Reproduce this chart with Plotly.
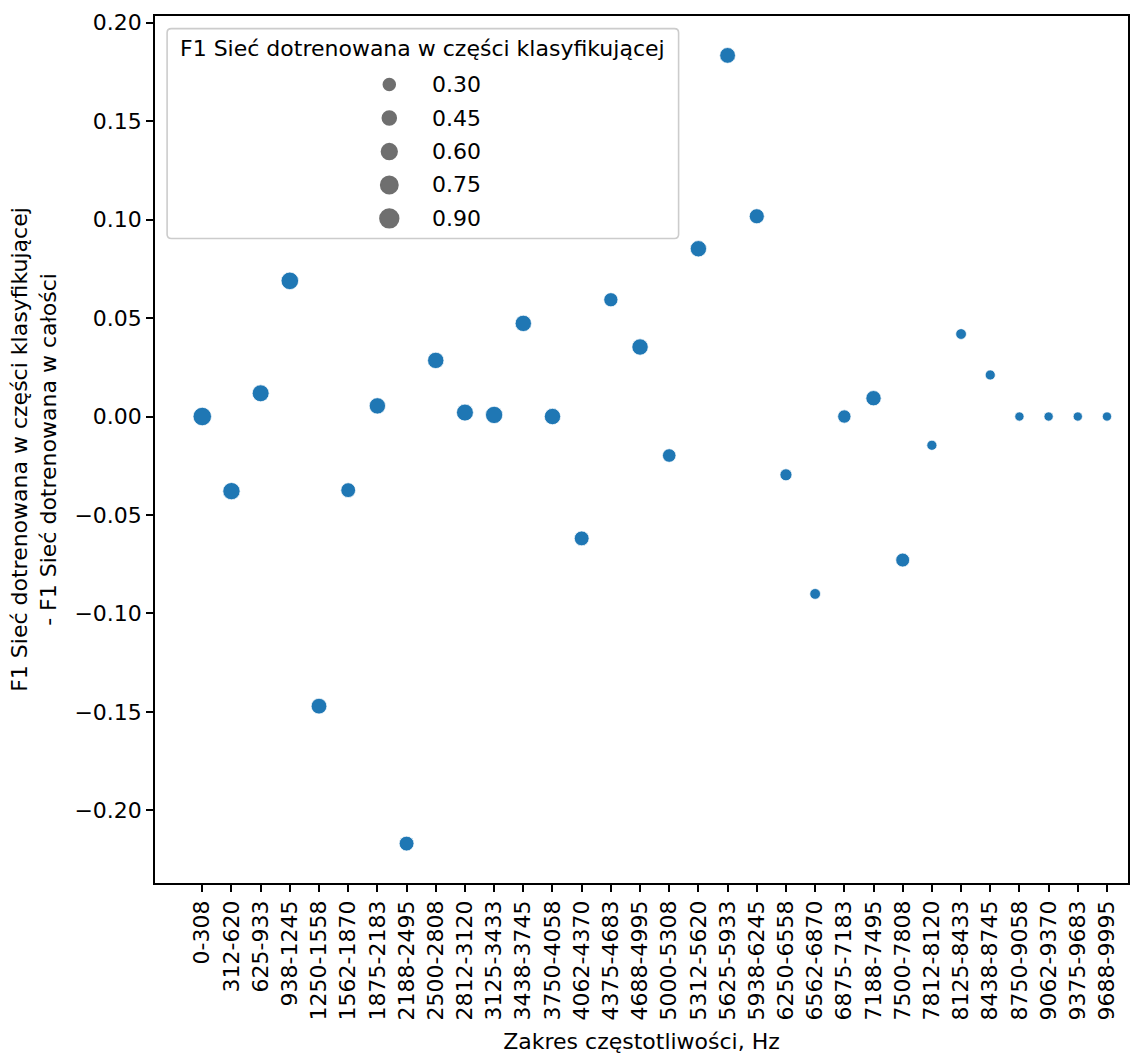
import numpy as np
import plotly.graph_objects as go

# ---------------- data ----------------
bands = ["0-308", "312-620", "625-933", "938-1245", "1250-1558", "1562-1870",
         "1875-2183", "2188-2495", "2500-2808", "2812-3120", "3125-3433",
         "3438-3745", "3750-4058", "4062-4370", "4375-4683", "4688-4995",
         "5000-5308", "5312-5620", "5625-5933", "5938-6245", "6250-6558",
         "6562-6870", "6875-7183", "7188-7495", "7500-7808", "7812-8120",
         "8125-8433", "8438-8745", "8750-9058", "9062-9370", "9375-9683",
         "9688-9995"]
f1_diff = [0.0, -0.0379, 0.0118, 0.0689, -0.1471, -0.0374, 0.0054, -0.2169,
           0.0285, 0.0020, 0.0008, 0.0473, 0.0, -0.0619, 0.0593, 0.0353,
           -0.0198, 0.0852, 0.1834, 0.1017, -0.0296, -0.0901, 0.0, 0.0093,
           -0.0729, -0.0146, 0.0419, 0.0211, 0.0, 0.0, 0.0, 0.0]
f1_head = [0.92, 0.79, 0.755, 0.82, 0.64, 0.555, 0.70, 0.555, 0.70, 0.755,
           0.79, 0.70, 0.70, 0.555, 0.50, 0.70, 0.45, 0.70, 0.64, 0.58,
           0.335, 0.25, 0.43, 0.60, 0.48, 0.21, 0.25, 0.21, 0.16, 0.16,
           0.16, 0.16]
legend_ticks = [0.30, 0.45, 0.60, 0.75, 0.90]
legend_title = "F1 Sieć dotrenowana w części klasyfikującej"
x_title = "Zakres częstotliwości, Hz"
y_title = "F1 Sieć dotrenowana w części klasyfikującej<br>- F1 Sieć dotrenowana w całości"

# ---------------- style / layout ----------------
W, H = 1140, 1054
L, R, T, B = 155, 1128, 15.7, 883.3
FONT = "DejaVu Sans"
FS = 22
BLUE = "#1f77b4"
DMIN, DMAX = 9.25, 18.5

fmin, fmax = min(f1_head), max(f1_head)


def size_of(v):
    # seaborn-like: marker area linear between min and max of the size variable
    a = 18 + 54 * (np.asarray(v, dtype=float) - fmin) / (fmax - fmin)
    return DMAX * np.sqrt(a / 72.0)


# axis ranges like matplotlib (5% margins)
ymin, ymax = min(f1_diff), max(f1_diff)
pad = 0.05 * (ymax - ymin)
yr = [ymin - pad, ymax + pad]
n = len(bands)
xr = [-1.62, n - 1 + 0.72]

fig = go.Figure()
fig.add_trace(go.Scatter(
    x=bands, y=f1_diff, mode="markers",
    marker=dict(size=size_of(f1_head), color=BLUE,
                line=dict(color="white", width=0.75), opacity=1),
    showlegend=False, hoverinfo="x+y",
))

# ----- custom legend drawn in pixel coordinates on an overlay axis -----
box_l, box_r, box_t, box_b = 167.1, 678.6, 28.3, 238.3
mk_x, lab_x = 389.3, 430.4
first_y, step_y = 84.3, 33.5
leg_y = [first_y + i * step_y for i in range(len(legend_ticks))]

fig.add_trace(go.Scatter(
    x=[mk_x] * len(legend_ticks), y=leg_y, mode="markers",
    marker=dict(size=size_of(legend_ticks), color="#333333",
                line=dict(width=2, color="#333333")),
    xaxis="x2", yaxis="y2", showlegend=False, hoverinfo="skip",
))

r = 4.2
path = (f"M {box_l + r},{box_t} L {box_r - r},{box_t} Q {box_r},{box_t} {box_r},{box_t + r} "
        f"L {box_r},{box_b - r} Q {box_r},{box_b} {box_r - r},{box_b} "
        f"L {box_l + r},{box_b} Q {box_l},{box_b} {box_l},{box_b - r} "
        f"L {box_l},{box_t + r} Q {box_l},{box_t} {box_l + r},{box_t} Z")
fig.add_shape(type="path", path=path, xref="x2", yref="y2",
              fillcolor="rgba(255,255,255,0.8)",
              line=dict(color="#cccccc", width=1.6), layer="below")

annotations = [dict(x=(box_l + box_r) / 2, y=48.3, xref="x2", yref="y2",
                    text=legend_title, showarrow=False, xanchor="center",
                    yanchor="middle", font=dict(family=FONT, size=FS, color="black"))]
for t, yy in zip(legend_ticks, leg_y):
    annotations.append(dict(x=lab_x, y=yy, xref="x2", yref="y2",
                            text=f"{t:.2f}", showarrow=False, xanchor="left",
                            yanchor="middle",
                            font=dict(family=FONT, size=FS, color="black")))

axis_common = dict(showgrid=False, zeroline=False, showline=True, mirror=True,
                   linecolor="black", linewidth=1.6, ticks="outside",
                   ticklen=7, tickwidth=1.6, tickcolor="black",
                   tickfont=dict(family=FONT, size=FS, color="black"),
                   automargin=False)

fig.update_layout(
    width=W, height=H,
    margin=dict(l=L, r=W - R, t=T, b=H - B, pad=0),
    paper_bgcolor="white", plot_bgcolor="white",
    font=dict(family=FONT, size=FS, color="black"),
    xaxis=dict(type="category", range=xr, tickangle=-90,
               title=dict(text=x_title, standoff=16,
                          font=dict(family=FONT, size=FS, color="black")),
               **axis_common),
    yaxis=dict(range=yr, dtick=0.05, tick0=0, tickformat=".2f",
               title=dict(text=y_title, standoff=12,
                          font=dict(family=FONT, size=FS, color="black")),
               **axis_common),
    xaxis2=dict(range=[L, R], overlaying="x", visible=False, fixedrange=True),
    yaxis2=dict(range=[B, T], overlaying="y", visible=False, fixedrange=True),
    annotations=annotations,
    showlegend=False,
)

fig.write_html("out.html")
